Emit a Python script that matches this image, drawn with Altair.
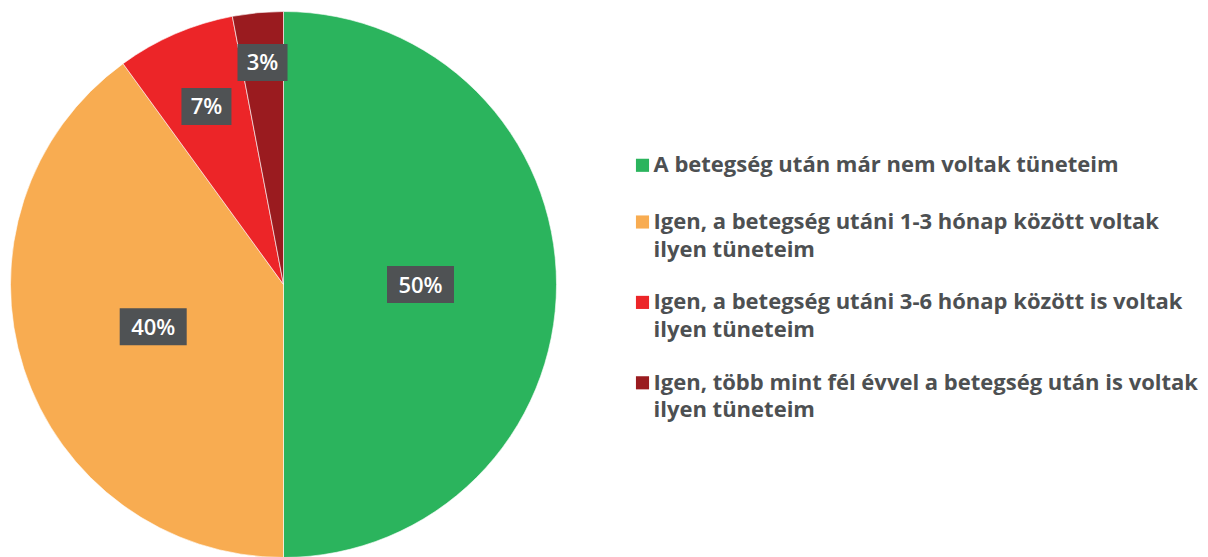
import altair as alt
import pandas as pd

categories = [
    "A betegség után már nem voltak tüneteim",
    "Igen, a betegség utáni 1-3 hónap között voltak ilyen tüneteim",
    "Igen, a betegség utáni 3-6 hónap között is voltak ilyen tüneteim",
    "Igen, több mint fél évvel a betegség után is voltak ilyen tüneteim",
]
legend_labels = [
    "A betegség után már nem voltak tüneteim",
    "Igen, a betegség utáni 1-3 hónap között voltak\nilyen tüneteim",
    "Igen, a betegség utáni 3-6 hónap között is voltak\nilyen tüneteim",
    "Igen, több mint fél évvel a betegség után is voltak\nilyen tüneteim",
]
values = [50, 40, 7, 3]
pct_labels = ["50%", "40%", "7%", "3%"]
colors = ["#2BB45D", "#F8AC51", "#EC2528", "#9A1B1F"]

df = pd.DataFrame({
    "cat": categories,
    "legend": legend_labels,
    "value": values,
    "label": pct_labels,
    "order": list(range(len(categories))),
})

CX, CY, R = 275.5, 276.5, 273
TEXT_GRAY = "#4D5052"
BOX_GRAY = "#4F5254"
FONT = "Open Sans"

base = alt.Chart(df)
color = alt.Color("cat:N", scale=alt.Scale(domain=categories, range=colors), legend=None)

pie = base.mark_arc(outerRadius=R, stroke="white", strokeWidth=0.6).encode(
    theta=alt.Theta("value:Q", stack=True),
    color=color,
    order=alt.Order("order:Q"),
    x=alt.value(CX),
    y=alt.value(CY),
)

lab = base.transform_window(
    cum="sum(value)", sort=[alt.SortField("order")], frame=[None, 0]
).transform_joinaggregate(
    total="sum(value)"
).transform_calculate(
    share="datum.value / datum.total",
    mid="(datum.cum - datum.value / 2) / datum.total * 2 * PI",
).transform_calculate(
    r="datum.share >= 0.2 ? 137 : (datum.share >= 0.05 ? 194 : 223)",
).transform_calculate(
    px=f"{CX} + datum.r * sin(datum.mid)",
    py=f"{CY} - datum.r * cos(datum.mid)",
    bw="length(datum.label) >= 3 ? 67 : 50",
).transform_calculate(
    bx1="datum.px - datum.bw / 2",
    bx2="datum.px + datum.bw / 2",
    by1="datum.py - 18.5",
    by2="datum.py + 18.5",
    ty="datum.py + 8",
)

boxes = lab.mark_rect(color=BOX_GRAY).encode(
    x=alt.X("bx1:Q", scale=None),
    x2="bx2:Q",
    y=alt.Y("by1:Q", scale=None),
    y2="by2:Q",
)
texts = lab.mark_text(
    font=FONT, fontSize=22, fontWeight=600, color="white", align="center", baseline="alphabetic"
).encode(
    x=alt.X("px:Q", scale=None),
    y=alt.Y("ty:Q", scale=None),
    text="label:N",
)

leg = base.transform_calculate(
    lines="length(split(datum.legend, '\\n'))"
).transform_window(
    cumlines="sum(lines)", sort=[alt.SortField("order")], frame=[None, 0]
).transform_calculate(
    base_y="164.3 + datum.order * 33 + (datum.cumlines - datum.lines) * 23.7",
).transform_calculate(
    sq_y="datum.base_y - 7",
)

leg_sq = leg.mark_square(size=172, opacity=1).encode(
    x=alt.value(634.5),
    y=alt.Y("sq_y:Q", scale=None),
    color=color,
)
leg_txt = leg.mark_text(
    font=FONT, fontSize=22, fontWeight="bold", color=TEXT_GRAY,
    align="left", baseline="alphabetic", lineBreak="\n", lineHeight=27.5,
).encode(
    x=alt.value(645.5),
    y=alt.Y("base_y:Q", scale=None),
    text="legend:N",
)

chart = alt.layer(pie, boxes, texts, leg_sq, leg_txt).properties(
    width=1192, height=549, padding=0, autosize=alt.AutoSizeParams(type="none"),
).configure_view(stroke=None)

chart.save("out.html", embed_options={"renderer": "svg", "actions": False})
